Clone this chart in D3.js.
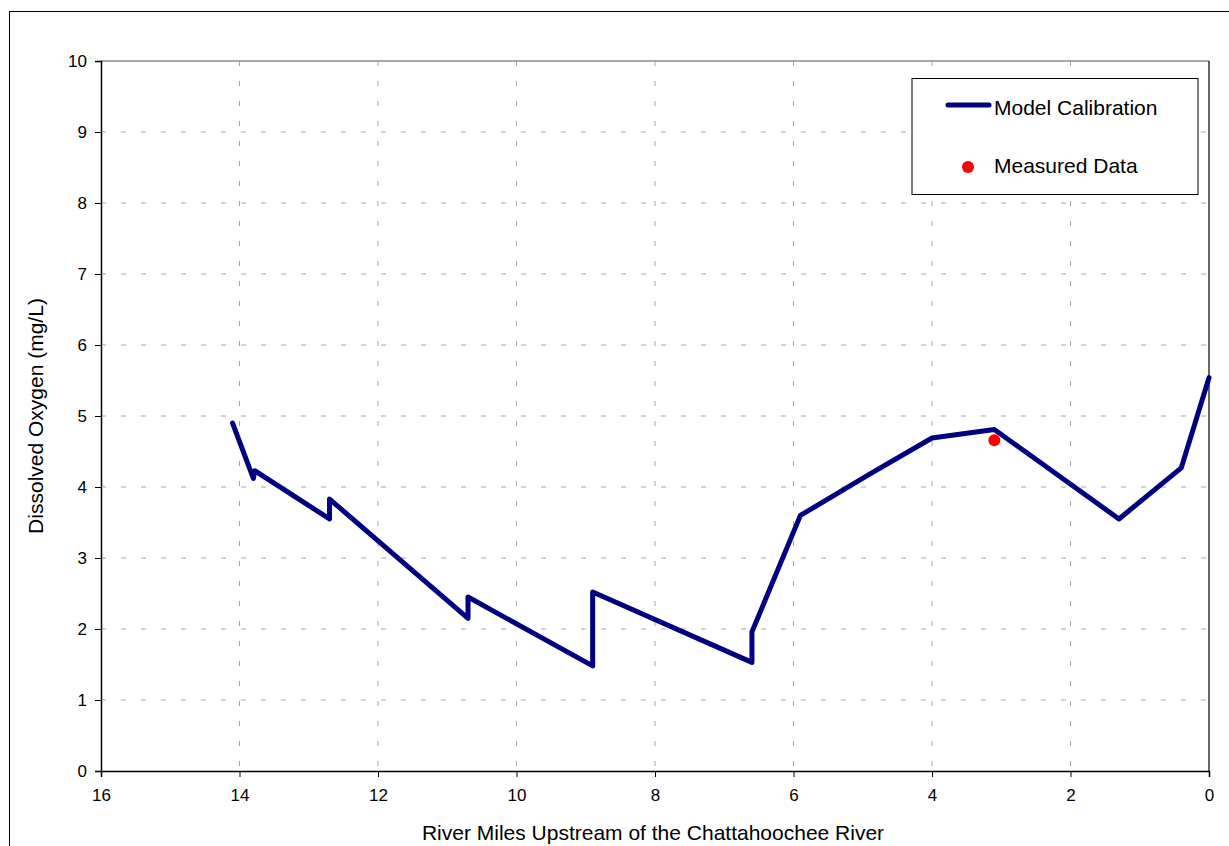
<!DOCTYPE html>
<html>
<head>
<meta charset="utf-8">
<script src="https://cdn.jsdelivr.net/npm/d3@7"></script>
<style>
  html, body { margin: 0; padding: 0; background: #fff; }
  svg { display: block; font-family: "Liberation Sans", Arial, sans-serif; }
</style>
</head>
<body>
<svg id="chart" width="1229" height="846"></svg>
<script>
// ---- data ----
const modelMiles = [14.1, 13.8, 13.78, 12.7, 12.7, 10.7, 10.7, 8.9, 8.9, 6.6, 6.6, 5.9, 4.9, 4.0, 3.1, 1.3, 0.4, 0];
const modelDO    = [4.9, 4.12, 4.23, 3.55, 3.83, 2.15, 2.45, 1.48, 2.52, 1.53, 1.96, 3.6, 4.18, 4.69, 4.81, 3.55, 4.27, 5.54];
const measuredMiles = [3.1];
const measuredDO    = [4.66];
const xTicks = [16, 14, 12, 10, 8, 6, 4, 2, 0];
const yTicks = [0, 1, 2, 3, 4, 5, 6, 7, 8, 9, 10];
const seriesNames = ["Model Calibration", "Measured Data"];
const xTitle = "River Miles Upstream of the Chattahoochee River";
const yTitle = "Dissolved Oxygen (mg/L)";

// ---- layout ----
const svg = d3.select("#chart");
const L = 101, R = 1209, T = 61, B = 771;
const x = d3.scaleLinear().domain([16, 0]).range([L, R]);
const y = d3.scaleLinear().domain([0, 10]).range([B, T]);

// outer frame
svg.append("rect").attr("x", 9.5).attr("y", 11.5).attr("width", 1260).attr("height", 860)
  .attr("fill", "none").attr("stroke", "#000").attr("stroke-width", 1);

// gridlines
const grid = svg.append("g");
grid.selectAll("line.h").data(yTicks.filter(d => d > 0 && d < 10)).enter().append("line")
  .attr("x1", L).attr("x2", R).attr("y1", d => y(d)).attr("y2", d => y(d))
  .attr("stroke", "#a6a6a6").attr("stroke-width", 1).attr("stroke-dasharray", "5,15");
grid.selectAll("line.v").data(xTicks.filter(d => d > 0 && d < 16)).enter().append("line")
  .attr("x1", d => x(d)).attr("x2", d => x(d)).attr("y1", T).attr("y2", B)
  .attr("stroke", "#a6a6a6").attr("stroke-width", 1).attr("stroke-dasharray", "5,15");
// top line of plot
svg.append("line").attr("x1", L).attr("x2", R).attr("y1", y(10)).attr("y2", y(10))
  .attr("stroke", "#8c8c8c").attr("stroke-width", 1.5);
// right border
svg.append("line").attr("x1", R).attr("x2", R).attr("y1", T).attr("y2", B)
  .attr("stroke", "#000").attr("stroke-width", 1.2);

// axes
const xAxis = d3.axisBottom(x).tickValues(xTicks).tickSize(6).tickPadding(12).tickFormat(d3.format("d"));
const yAxis = d3.axisLeft(y).tickValues(yTicks).tickSize(6).tickPadding(8).tickFormat(d3.format("d"));
const gx = svg.append("g").attr("transform", `translate(0,${B})`).call(xAxis);
const gy = svg.append("g").attr("transform", `translate(${L},0)`).call(yAxis);
[gx, gy].forEach(g => {
  g.select(".domain").attr("stroke", "#000").attr("stroke-width", 1.5);
  g.selectAll(".tick line").attr("stroke", "#000").attr("stroke-width", 1);
  g.selectAll(".tick text").attr("fill", "#000").style("font-size", "17px")
    .style("font-family", "'Liberation Sans', Arial, sans-serif");
});

// axis titles
svg.append("text").attr("x", 653).attr("y", 840).attr("text-anchor", "middle")
  .style("font-size", "21px").attr("fill", "#000").text(xTitle);
svg.append("text").attr("transform", `translate(43,${(T + B) / 2}) rotate(-90)`)
  .attr("text-anchor", "middle").style("font-size", "21px").attr("fill", "#000").text(yTitle);

// model line
const modelData = modelMiles.map((m, i) => ({ m, v: modelDO[i] }));
const line = d3.line().x(d => x(d.m)).y(d => y(d.v));
svg.append("path").datum(modelData).attr("d", line)
  .attr("fill", "none").attr("stroke", "#000080").attr("stroke-width", 5)
  .attr("stroke-linejoin", "round").attr("stroke-linecap", "round");

// measured points
const measData = measuredMiles.map((m, i) => ({ m, v: measuredDO[i] }));
svg.selectAll("circle.meas").data(measData).enter().append("circle")
  .attr("cx", d => x(d.m)).attr("cy", d => y(d.v)).attr("r", 6).attr("fill", "#ff0000");

// legend
const lg = svg.append("g");
lg.append("rect").attr("x", 912).attr("y", 78.5).attr("width", 286).attr("height", 116)
  .attr("fill", "#fff").attr("stroke", "#000").attr("stroke-width", 1);
lg.append("line").attr("x1", 948).attr("x2", 989).attr("y1", 105).attr("y2", 105)
  .attr("stroke", "#000080").attr("stroke-width", 5).attr("stroke-linecap", "round");
lg.append("text").attr("x", 994).attr("y", 115).style("font-size", "21px").attr("fill", "#000").text(seriesNames[0]);
lg.append("circle").attr("cx", 968).attr("cy", 167).attr("r", 6).attr("fill", "#ff0000");
lg.append("text").attr("x", 994).attr("y", 173).style("font-size", "21px").attr("fill", "#000").text(seriesNames[1]);
</script>
</body>
</html>
